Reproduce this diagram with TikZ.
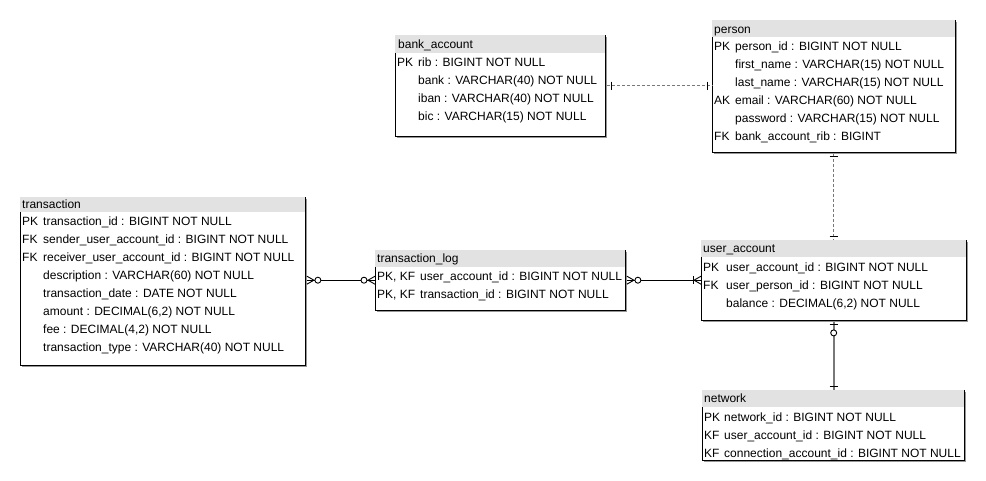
\documentclass[tikz,border=0pt]{standalone}
\usepackage{fontspec}
\setmainfont{Liberation Sans}
\usetikzlibrary{calc}
\definecolor{hdrgray}{RGB}{226,226,226}
\definecolor{lnkgray}{RGB}{120,120,120}
\definecolor{shadowgray}{RGB}{150,150,150}
\newcommand\ertab[6]{%
  \node[tblnode, minimum width={(#4-#2)*1pt}, minimum height={(#5-#3)*1pt}, anchor=north west] (#1) at (#2,#3) {};
  \draw[shadowline] (#4+1.2,#3+2) -- (#4+1.2,#5+1.2) -- (#2+2,#5+1.2);
  \fill[hdrfill] (#2,#3) rectangle (#4,#6);
  \draw[tblline] (#2,#6) -- (#2,#5) -- (#4,#5) -- (#4,#3);
}
\begin{document}
\begin{tikzpicture}[x=1pt,y=-1pt,
  txt/.style={anchor=base west, inner sep=0pt, font=\fontsize{12}{14}\selectfont},
  tblnode/.style={inner sep=0pt, draw=none, rectangle},
  hdrfill/.style={fill=hdrgray},
  tblline/.style={draw=black, line width=0.9pt},
  shadowline/.style={draw=shadowgray, line width=1pt},
  rel/.style={draw=black, line width=0.9pt},
  relgray/.style={draw=lnkgray, line width=1.6pt},
  reldash/.style={draw=lnkgray, line width=1.2pt, dash pattern=on 3pt off 2pt},
  mk/.style={draw=black, line width=0.9pt},
  circ/.style={draw=black, fill=white, line width=0.9pt},
]
\fill[white] (0,0) rectangle (986,481);
\useasboundingbox (0,0) rectangle (986,481);

% ---------- tables ----------
\ertab{ba}{395}{35}{605}{136}{53}
\ertab{pe}{712}{20}{955}{152}{37}
\ertab{tx}{20}{197}{305}{365}{212}
\ertab{tl}{375}{250}{625}{310}{267}
\ertab{ua}{701}{240}{966}{320}{257}
\ertab{nw}{702}{390}{964}{460}{407}

% bank_account
\node[txt] (ba-t) at (398,48.3) {bank\_account};
\node[txt] (ba-k1) at (397,66.3) {PK};
\node[txt] (ba-f1) at (418,66.3) {rib : BIGINT NOT NULL};
\node[txt] (ba-f2) at (418,84.3) {bank : VARCHAR(40) NOT NULL};
\node[txt] (ba-f3) at (418,102.3) {iban : VARCHAR(40) NOT NULL};
\node[txt] (ba-f4) at (418,120.3) {bic : VARCHAR(15) NOT NULL};

% person
\node[txt] (pe-t) at (714,33.3) {person};
\node[txt] (pe-k1) at (714,50.8) {PK};
\node[txt] (pe-f1) at (735,50.8) {person\_id : BIGINT NOT NULL};
\node[txt] (pe-f2) at (735,68.8) {first\_name : VARCHAR(15) NOT NULL};
\node[txt] (pe-f3) at (735,86.8) {last\_name : VARCHAR(15) NOT NULL};
\node[txt] (pe-k4) at (714,104.8) {AK};
\node[txt] (pe-f4) at (735,104.8) {email : VARCHAR(60) NOT NULL};
\node[txt] (pe-f5) at (735,122.8) {password : VARCHAR(15) NOT NULL};
\node[txt] (pe-k6) at (714,140.8) {FK};
\node[txt] (pe-f6) at (735,140.8) {bank\_account\_rib : BIGINT};

% transaction
\node[txt] (tx-t) at (22,209) {transaction};
\node[txt] (tx-k1) at (22,225.3) {PK};
\node[txt] (tx-f1) at (43,225.3) {transaction\_id : BIGINT NOT NULL};
\node[txt] (tx-k2) at (22,243.3) {FK};
\node[txt] (tx-f2) at (43,243.3) {sender\_user\_account\_id : BIGINT NOT NULL};
\node[txt] (tx-k3) at (22,261.3) {FK};
\node[txt] (tx-f3) at (43,261.3) {receiver\_user\_account\_id : BIGINT NOT NULL};
\node[txt] (tx-f4) at (43,279.3) {description : VARCHAR(60) NOT NULL};
\node[txt] (tx-f5) at (43,297.3) {transaction\_date : DATE NOT NULL};
\node[txt] (tx-f6) at (43,315.3) {amount : DECIMAL(6,2) NOT NULL};
\node[txt] (tx-f7) at (43,333.3) {fee : DECIMAL(4,2) NOT NULL};
\node[txt] (tx-f8) at (43,351.3) {transaction\_type : VARCHAR(40) NOT NULL};

% transaction_log
\node[txt] (tl-t) at (377,262.8) {transaction\_log};
\node[txt] (tl-k1) at (377,280.3) {PK, KF};
\node[txt] (tl-f1) at (420,280.3) {user\_account\_id : BIGINT NOT NULL};
\node[txt] (tl-k2) at (377,298.3) {PK, KF};
\node[txt] (tl-f2) at (420,298.3) {transaction\_id : BIGINT NOT NULL};

% user_account
\node[txt] (ua-t) at (703,252.8) {user\_account};
\node[txt] (ua-k1) at (703,271.3) {PK};
\node[txt] (ua-f1) at (726,271.3) {user\_account\_id : BIGINT NOT NULL};
\node[txt] (ua-k2) at (703,289.3) {FK};
\node[txt] (ua-f2) at (726,289.3) {user\_person\_id : BIGINT NOT NULL};
\node[txt] (ua-f3) at (726,307.3) {balance : DECIMAL(6,2) NOT NULL};

% network
\node[txt] (nw-t) at (704,402.8) {network};
\node[txt] (nw-k1) at (704,421.3) {PK};
\node[txt] (nw-f1) at (724,421.3) {network\_id : BIGINT NOT NULL};
\node[txt] (nw-k2) at (704,439.3) {KF};
\node[txt] (nw-f2) at (724,439.3) {user\_account\_id : BIGINT NOT NULL};
\node[txt] (nw-k3) at (704,457.3) {KF};
\node[txt] (nw-f3) at (724,457.3) {connection\_account\_id : BIGINT NOT NULL};

% ---------- connectors ----------
% bank_account -- person (one to one, dashed)
\coordinate (c1a) at ($(ba.east)+(1.5,0)$);
\coordinate (c1b) at (ba.east -| pe.west);
\draw[reldash] (c1a) -- (c1b);
\draw[mk] ($(c1a)+(5,-4)$) -- ($(c1a)+(5,4)$);
\draw[mk] ($(c1b)+(-5,-4)$) -- ($(c1b)+(-5,4)$);

% person -- user_account (one to one, dashed)
\coordinate (c2a) at ($(pe.south)+(0,1.5)$);
\coordinate (c2b) at (pe.south |- ua.north);
\draw[reldash] (c2a) -- (c2b);
\draw[mk] ($(c2a)+(-4,2.5)$) -- ($(c2a)+(4,2.5)$);
\draw[mk] ($(c2b)+(-4,-4)$) -- ($(c2b)+(4,-4)$);

% user_account -- network (zero-or-one to one)
\coordinate (c3a) at ($(ua.south)+(0,1.5)$);
\coordinate (c3b) at (ua.south |- nw.north);
\draw[relgray] (c3a) -- (c3b);
\draw[mk] ($(c3a)+(-4,3)$) -- ($(c3a)+(4,3)$);
\draw[circ] ($(c3a)+(0,11)$) circle[radius=3pt];
\draw[mk] ($(c3b)+(-4,-3.5)$) -- ($(c3b)+(4,-3.5)$);

% transaction -- transaction_log (zero-or-many both ends)
\coordinate (c4a) at ($(tl.west -| tx.east)+(1.5,0)$);
\coordinate (c4b) at (tl.west);
\draw[rel] (c4a) -- (c4b);
\draw[mk] ($(c4a)+(0,-4)$) -- ($(c4a)+(7,0)$) -- ($(c4a)+(0,4)$);
\draw[circ] ($(c4a)+(11,0)$) circle[radius=3pt];
\draw[mk] ($(c4b)+(0,-4)$) -- ($(c4b)+(-7,0)$) -- ($(c4b)+(0,4)$);
\draw[circ] ($(c4b)+(-11,0)$) circle[radius=3pt];

% transaction_log -- user_account (zero-or-many to one-or-many)
\coordinate (c5a) at ($(tl.east)+(1.5,0)$);
\coordinate (c5b) at (tl.east -| ua.west);
\draw[rel] (c5a) -- (c5b);
\draw[mk] ($(c5a)+(0,-4)$) -- ($(c5a)+(7,0)$) -- ($(c5a)+(0,4)$);
\draw[circ] ($(c5a)+(11,0)$) circle[radius=3pt];
\draw[mk] ($(c5b)+(0,-4)$) -- ($(c5b)+(-7,0)$) -- ($(c5b)+(0,4)$);
\draw[mk] ($(c5b)+(-8,-4)$) -- ($(c5b)+(-8,4)$);
\end{tikzpicture}
\end{document}
